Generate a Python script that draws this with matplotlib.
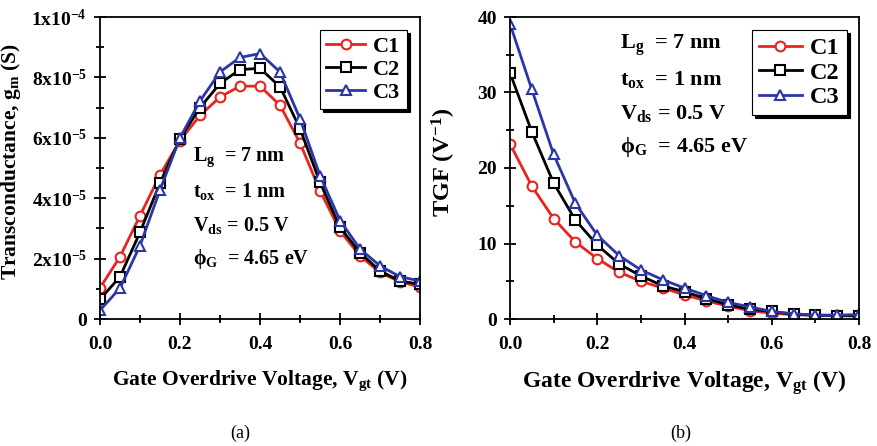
import matplotlib
matplotlib.use("Agg")
import matplotlib.pyplot as plt
from matplotlib.ticker import MultipleLocator, FixedLocator, FixedFormatter

plt.rcParams['font.family'] = ['Liberation Serif', 'DejaVu Serif']
plt.rcParams['font.weight'] = 'bold'
plt.rcParams['mathtext.fontset'] = 'custom'
plt.rcParams['mathtext.rm'] = 'Liberation Serif:bold'
plt.rcParams['mathtext.it'] = 'Liberation Serif:bold'
plt.rcParams['mathtext.bf'] = 'Liberation Serif:bold'

# Gate overdrive voltage (V)
vgt = [0.00, 0.05, 0.10, 0.15, 0.20, 0.25, 0.30, 0.35, 0.40,
       0.45, 0.50, 0.55, 0.60, 0.65, 0.70, 0.75, 0.80]

# Transconductance gm (x1e-5 S)
gm_c1 = [1.03, 2.06, 3.42, 4.77, 5.91, 6.74, 7.35, 7.71, 7.71,
         7.08, 5.83, 4.25, 2.92, 2.09, 1.54, 1.23, 1.06]
gm_c2 = [0.65, 1.40, 2.87, 4.50, 5.97, 7.00, 7.80, 8.26, 8.30,
         7.69, 6.30, 4.53, 3.03, 2.20, 1.59, 1.26, 1.15]
gm_c3 = [0.29, 1.02, 2.43, 4.27, 6.00, 7.22, 8.18, 8.66, 8.79,
         8.18, 6.63, 4.75, 3.26, 2.32, 1.76, 1.40, 1.26]

# Transconductance generation factor (1/V)
tgf_c1 = [23.2, 17.6, 13.3, 10.2, 8.0, 6.2, 5.0, 4.1, 3.2,
          2.4, 1.7, 1.1, 0.75, 0.6, 0.5, 0.5, 0.45]
tgf_c2 = [32.6, 24.8, 18.0, 13.1, 9.8, 7.3, 5.7, 4.4, 3.6,
          2.7, 1.9, 1.3, 1.0, 0.6, 0.5, 0.45, 0.4]
tgf_c3 = [39.1, 30.4, 21.8, 15.3, 11.1, 8.4, 6.5, 5.2, 4.1,
          3.1, 2.2, 1.6, 1.0, 0.7, 0.5, 0.5, 0.6]

series_names = ['C1', 'C2', 'C3']
gm_ticks = [0, 2e-5, 4e-5, 6e-5, 8e-5, 1e-4]
gm_tick_labels = ['0', r'2x10$^{-5}$', r'4x10$^{-5}$', r'6x10$^{-5}$',
                  r'8x10$^{-5}$', r'1x10$^{-4}$']
tgf_ticks = [0, 10, 20, 30, 40]
x_ticks = [0.0, 0.2, 0.4, 0.6, 0.8]

param_lines = ['L$_\\mathrm{g}$  = 7 nm',
               't$_\\mathrm{ox}$  = 1 nm',
               'V$_\\mathrm{ds}$ = 0.5 V',
               '\u03d5$_\\mathrm{G}$  = 4.65 eV']

colors = ['#e8241f', '#000000', '#2a36a8']
markers = ['o', 's', '^']

W, H = 877, 446
fig = plt.figure(figsize=(W / 100, H / 100), dpi=100)
ax1 = fig.add_axes([100 / W, 1 - 319 / H, 320 / W, 302 / H])
ax2 = fig.add_axes([510 / W, 1 - 319 / H, 349 / W, 302 / H])


def style_axes(ax, xlabel_size):
    for sp in ax.spines.values():
        sp.set_linewidth(1.3)
    ax.tick_params(which='both', direction='inout', top=False, right=False,
                   width=1.3, labelsize=14)
    ax.tick_params(which='major', length=9)
    ax.tick_params(which='minor', length=6)
    ax.tick_params(axis='x', pad=8)
    ax.tick_params(axis='y', pad=5)
    ax.set_xlim(0, 0.8)
    ax.xaxis.set_major_locator(FixedLocator(x_ticks))
    ax.xaxis.set_major_formatter(FixedFormatter([f'{v:.1f}' for v in x_ticks]))
    ax.xaxis.set_minor_locator(MultipleLocator(0.1))
    ax.set_xlabel('Gate Overdrive Voltage, V$_\\mathrm{gt}$ (V)',
                  fontsize=xlabel_size, fontweight='bold', labelpad=11)
    for lab in ax.get_xticklabels() + ax.get_yticklabels():
        lab.set_fontweight('bold')


def add_legend(ax, anchor, size):
    leg = ax.legend(loc='upper right', bbox_to_anchor=anchor, fancybox=False,
                    edgecolor='black', framealpha=1,
                    shadow={'color': 'black', 'alpha': 1},
                    prop={'size': size, 'weight': 'bold'},
                    handlelength=1.75, handletextpad=0.35, labelspacing=0.1,
                    borderpad=0.3, borderaxespad=0)
    leg.get_frame().set_linewidth(0.8)


def add_params(ax, x, ys, size):
    for line, y in zip(param_lines, ys):
        ax.text(x, y, line, transform=ax.transAxes, fontsize=size,
                fontweight='bold', va='center', ha='left')


gm_series = [gm_c1, gm_c2, gm_c3]
for vals, name, c, m in zip(gm_series, series_names, colors, markers):
    ax1.plot(vgt, [v * 1e-5 for v in vals], color=c, marker=m, lw=2,
             ms=7, mfc='white', mec=c, mew=1.5, label=name)
ax1.set_ylim(0, 1e-4)
ax1.yaxis.set_major_locator(FixedLocator(gm_ticks))
ax1.yaxis.set_major_formatter(FixedFormatter(gm_tick_labels))
ax1.yaxis.set_minor_locator(MultipleLocator(1e-5))
ax1.set_ylabel('Transconductance, g$_\\mathrm{m}$ (S)', fontsize=15.5,
               fontweight='bold')
ax1.yaxis.set_label_coords((23 - 100) / 320, 0.52)
style_axes(ax1, 15.5)
add_legend(ax1, ((407 - 100) / 320, (319 - 30) / 302), 16)
add_params(ax1, (193 - 100) / 320,
           [(319 - y) / 302 for y in (157, 191, 225, 259)], 14.5)

tgf_series = [tgf_c1, tgf_c2, tgf_c3]
for vals, name, c, m in zip(tgf_series, series_names, colors, markers):
    ax2.plot(vgt, vals, color=c, marker=m, lw=2, ms=7, mfc='white',
             mec=c, mew=1.5, label=name)
ax2.set_ylim(0, 40)
ax2.yaxis.set_major_locator(FixedLocator(tgf_ticks))
ax2.yaxis.set_minor_locator(MultipleLocator(5))
ax2.set_ylabel('TGF (V$^{-1}$)', fontsize=17.5, fontweight='bold')
ax2.yaxis.set_label_coords((458 - 510) / 349, 0.52)
style_axes(ax2, 17)
add_legend(ax2, ((847 - 510) / 349, (319 - 30) / 302), 17.5)
add_params(ax2, (620 - 510) / 349,
           [(319 - y) / 302 for y in (45, 79, 113, 147)], 16)

fig.text(240 / W, 1 - 433 / H, '(a)', fontsize=13, fontweight='normal',
         ha='center', va='center')
fig.text(681 / W, 1 - 433 / H, '(b)', fontsize=13, fontweight='normal',
         ha='center', va='center')

fig.savefig('out.png', dpi=100)
